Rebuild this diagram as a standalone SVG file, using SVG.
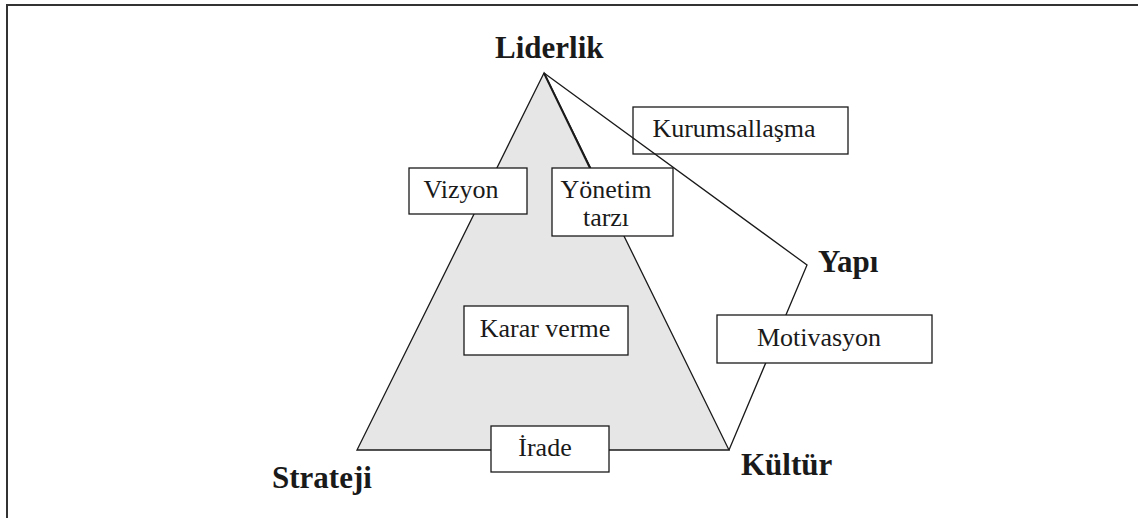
<svg xmlns="http://www.w3.org/2000/svg" width="1138" height="518" viewBox="0 0 1138 518">
<style>
.frame{stroke:#333;stroke-width:2;fill:none}
.edge{stroke:#1a1a1a;stroke-width:1.3;fill:none;stroke-linejoin:miter}
.box{fill:#fff;stroke:#1a1a1a;stroke-width:1.3}
.boxo{fill:none;stroke:#1a1a1a;stroke-width:1.3}
.lbl{font-family:"Liberation Serif","Times New Roman",serif;font-size:26px;fill:#1a1a1a;text-anchor:middle}
.big{font-family:"Liberation Serif","Times New Roman",serif;font-size:31px;font-weight:bold;fill:#1a1a1a}
</style>
<rect width="1138" height="518" fill="#fff"/>
<path class="frame" d="M7 518 V5 H1138"/>
<g id="triangle">
<polygon points="544,73 357,450 729,450" fill="#e6e6e6" stroke="#1a1a1a" stroke-width="1.3"/>
<line x1="544" y1="73" x2="590" y2="168" stroke="#1a1a1a" stroke-width="2"/>
</g>
<g id="connectors">
<polyline class="edge" points="544,73 807,265 729,450"/>
</g>
<g id="node-liderlik"><text class="big" x="495" y="58">Liderlik</text></g>
<g id="node-strateji"><text class="big" x="272" y="488">Strateji</text></g>
<g id="node-kultur"><text class="big" x="741" y="475">Kültür</text></g>
<g id="node-yapi"><text class="big" x="818" y="272">Yapı</text></g>
<g id="node-kurumsallasma"><rect class="boxo" x="633" y="107" width="215" height="47"/><text class="lbl" x="734" y="137">Kurumsallaşma</text></g>
<g id="node-vizyon"><rect class="box" x="409" y="168" width="118" height="46"/><text class="lbl" x="461" y="198">Vizyon</text></g>
<g id="node-yonetim"><rect class="box" x="552" y="168" width="121" height="68"/><text class="lbl" x="606" y="198">Yönetim</text><text class="lbl" x="606" y="226">tarzı</text></g>
<g id="node-karar"><rect class="box" x="464" y="306" width="164" height="49"/><text class="lbl" x="545" y="337">Karar verme</text></g>
<g id="node-motivasyon"><rect class="box" x="717" y="315" width="215" height="48"/><text class="lbl" x="819" y="346">Motivasyon</text></g>
<g id="node-irade"><rect class="box" x="491" y="426" width="118" height="46"/><text class="lbl" x="545" y="456">İrade</text></g>
</svg>
